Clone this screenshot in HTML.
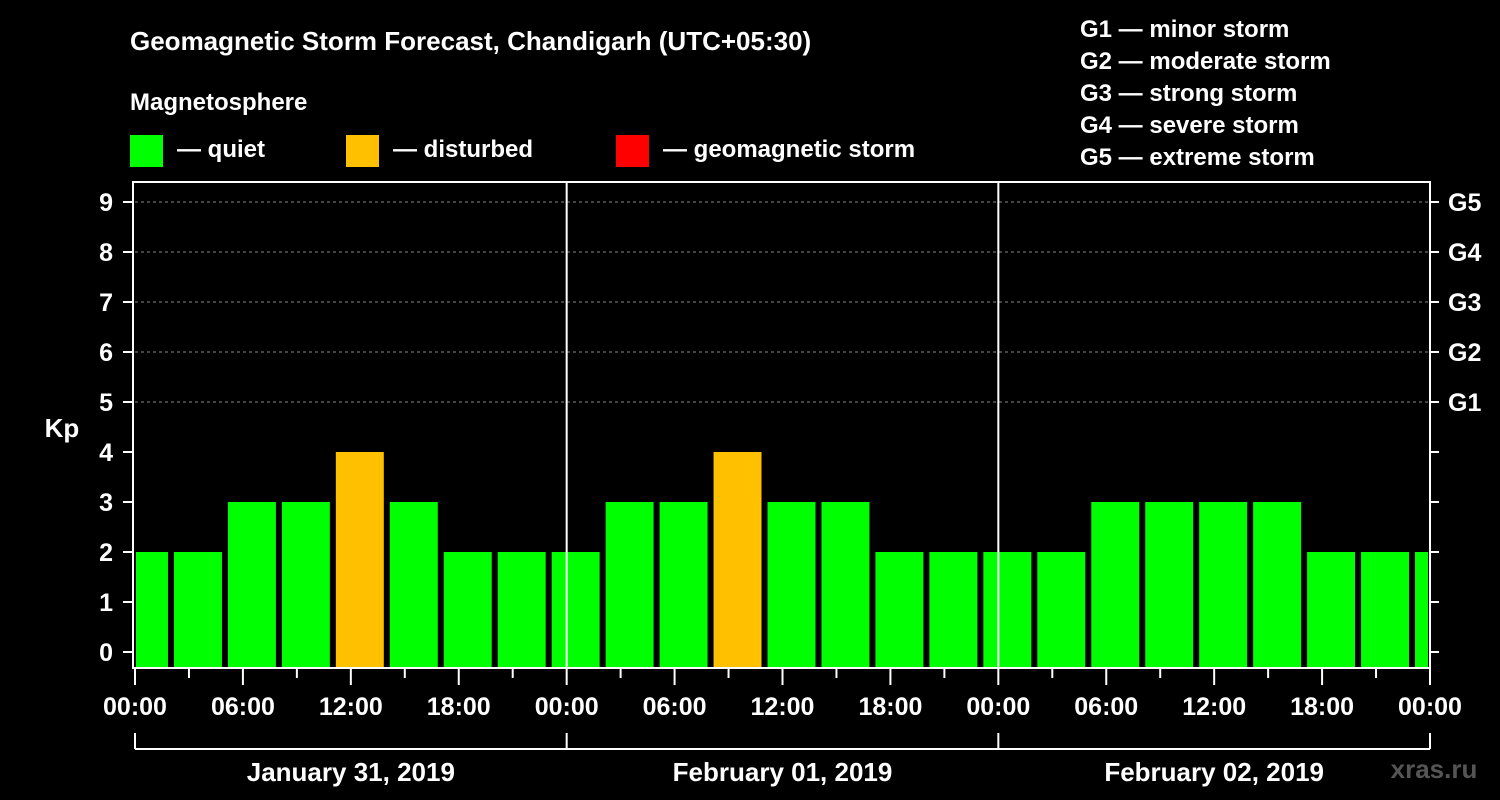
<!DOCTYPE html>
<html><head><meta charset="utf-8"><style>
body{margin:0;background:#000;}
svg{display:block;font-family:"Liberation Sans",Arial,sans-serif;font-weight:bold;}
</style></head><body>
<svg id="c" width="1500" height="800" viewBox="0 0 1500 800">
<rect width="1500" height="800" fill="#000"/>
<text x="130" y="50" fill="#fff" font-size="26">Geomagnetic Storm Forecast, Chandigarh (UTC+05:30)</text>
<text x="130" y="110" fill="#fff" font-size="24">Magnetosphere</text>
<g><rect x="130" y="135" width="33" height="32" fill="#00ff00"/><text x="177" y="157" fill="#fff" font-size="24">— quiet</text></g>
<g><rect x="346" y="135" width="33" height="32" fill="#ffc000"/><text x="393" y="157" fill="#fff" font-size="24">— disturbed</text></g>
<g><rect x="616" y="135" width="33" height="32" fill="#ff0000"/><text x="663" y="157" fill="#fff" font-size="24">— geomagnetic storm</text></g>
<g fill="#fff" font-size="24">
<text x="1080" y="37">G1 — minor storm</text>
<text x="1080" y="69">G2 — moderate storm</text>
<text x="1080" y="101">G3 — strong storm</text>
<text x="1080" y="133">G4 — severe storm</text>
<text x="1080" y="165">G5 — extreme storm</text>
</g>
<text x="62" y="437" fill="#fff" font-size="26" text-anchor="middle">Kp</text>
<text x="1434" y="778" fill="#555" font-size="26" text-anchor="middle">xras.ru</text>
<g id="plot"></g>
</svg>
<script>
const values=[2,2,3,3,4,3,2,2,2,3,3,4,3,3,2,2,2,2,3,3,3,3,2,2,2];
const kpTicks=[0,1,2,3,4,5,6,7,8,9];
const gLabels=["G1","G2","G3","G4","G5"];
const timeLabels=["00:00","06:00","12:00","18:00","00:00","06:00","12:00","18:00","00:00","06:00","12:00","18:00","00:00"];
const dates=["January 31, 2019","February 01, 2019","February 02, 2019"];
const firstStartHour=-1, stepHours=3, totalHours=72;
const NS="http://www.w3.org/2000/svg";
const X0=135,X1=1430,Y0=668,YT=182;
const xs=h=>X0+(X1-X0)*h/totalHours;
const ys=v=>652-50*v;
const g=document.getElementById('plot');
function el(t,a,p){const e=document.createElementNS(NS,t);for(const k in a)e.setAttribute(k,a[k]);(p||g).appendChild(e);return e;}
// grid
kpTicks.forEach(v=>{if(v>=5){const l=el('line',{x1:X0,x2:X1,y1:ys(v),y2:ys(v),stroke:'#888','stroke-dasharray':'3,3','stroke-width':1});

}});
// bars
values.forEach((v,i)=>{let s=firstStartHour+i*stepHours,e=s+stepHours;let a=xs(s)+3,b=xs(e)-3;a=Math.max(a,X0+1);b=Math.min(b,X1-2);
const c=v>=5?'#ff0000':(v>=4?'#ffc000':'#00ff00');
const r=el('rect',{x:a,y:ys(v),width:b-a,height:Y0-ys(v),fill:c});

});
// frame
const f=el('rect',{x:X0-2,y:YT,width:X1-X0+2,height:Y0-YT,fill:'none',stroke:'#fff','stroke-width':2});


[1,2].forEach(d=>{const l=el('line',{x1:xs(d*24),x2:xs(d*24),y1:YT,y2:Y0,stroke:'#fff','stroke-width':2});

});
// y ticks
kpTicks.forEach(v=>{el('line',{x1:X0-12,x2:X0-2,y1:ys(v),y2:ys(v),stroke:'#fff','stroke-width':2});
el('line',{x1:X1,x2:X1+9,y1:ys(v),y2:ys(v),stroke:'#fff','stroke-width':2});
const t=el('text',{x:X0-22,y:ys(v)+9,fill:'#fff','font-size':25,'text-anchor':'end'});t.textContent=v;

});
gLabels.forEach((s,i)=>{const t=el('text',{x:1448,y:ys(5+i)+9,fill:'#fff','font-size':25});t.textContent=s;

});
// x ticks
for(let h=0;h<=totalHours;h+=3){const maj=h%6==0;el('line',{x1:xs(h),x2:xs(h),y1:Y0,y2:Y0+(maj?17:10),stroke:'#fff','stroke-width':2});}
timeLabels.forEach((s,i)=>{const t=el('text',{x:xs(i*6),y:715,fill:'#fff','font-size':25,'text-anchor':'middle'});t.textContent=s;

});
// date brackets
el('line',{x1:X0,x2:X1,y1:749,y2:749,stroke:'#fff','stroke-width':2});
for(let d=0;d<=3;d++)el('line',{x1:xs(d*24),x2:xs(d*24),y1:733,y2:749,stroke:'#fff','stroke-width':2});
dates.forEach((s,i)=>{const t=el('text',{x:xs(i*24+12),y:781,fill:'#fff','font-size':26,'text-anchor':'middle'});t.textContent=s;

});
</script>
</body></html>
